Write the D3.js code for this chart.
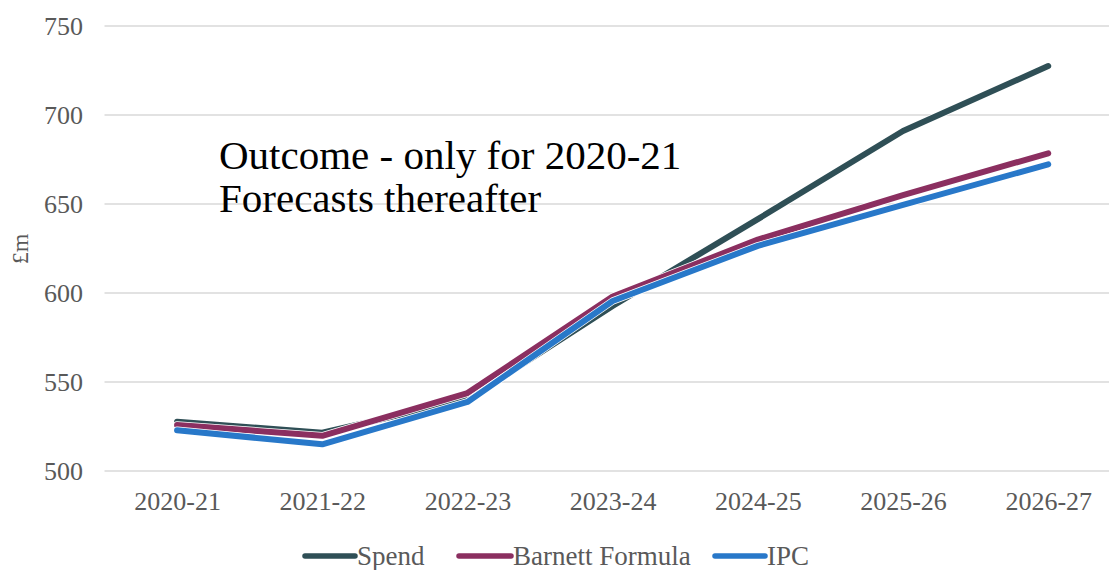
<!DOCTYPE html>
<html>
<head>
<meta charset="utf-8">
<script src="https://cdn.jsdelivr.net/npm/d3@7"></script>
<style>
  html, body { margin: 0; padding: 0; background: #ffffff; }
  svg { display: block; font-family: "Liberation Serif", "Times New Roman", serif; }
</style>
</head>
<body>
<svg id="chart" width="1109" height="570"></svg>
<script>
// Financial years on the horizontal axis
const years = ["2020-21", "2021-22", "2022-23", "2023-24", "2024-25", "2025-26", "2026-27"];

// Series values, £m
const spend   = [527.7, 521.5, 540.2, 592.7, 641.5, 691.0, 727.5];
const barnett = [525.8, 519.8, 543.8, 598.0, 630.0, 655.0, 678.5];
const ipc     = [522.9, 515.0, 538.8, 595.5, 626.5, 649.5, 672.3];

const yTicks = [500, 550, 600, 650, 700, 750];

const seriesNames  = ["Spend", "Barnett Formula", "IPC"];
const seriesColors = ["#2f4f56", "#8b2f60", "#2878c9"];

// Annotation lines
const noteLines = ["Outcome - only for 2020-21", "Forecasts thereafter"];

const series = [spend, barnett, ipc].map((values, i) => ({
  name: seriesNames[i],
  color: seriesColors[i],
  values: values
}));

const svg = d3.select("#chart");

const x = d3.scalePoint()
  .domain(years)
  .range([104.5, 1120.8])
  .padding(0.5);

const y = d3.scaleLinear()
  .domain([500, 750])
  .range([471, 26]);

const textGrey = "#595959";

// Horizontal gridlines
svg.append("g")
  .selectAll("line")
  .data(yTicks)
  .join("line")
  .attr("x1", 104.5)
  .attr("x2", 1121)
  .attr("y1", d => y(d))
  .attr("y2", d => y(d))
  .attr("stroke", "#d9d9d9")
  .attr("stroke-width", 1.5);

// Value axis labels
const yAxis = d3.axisLeft(y).tickValues(yTicks).tickSize(0).tickPadding(0);
svg.append("g")
  .attr("transform", "translate(83,0)")
  .call(yAxis)
  .call(g => g.select(".domain").remove())
  .call(g => g.selectAll("text")
    .attr("fill", textGrey)
    .style("font-family", "'Liberation Serif', 'Times New Roman', serif")
    .style("font-size", "26px")
    .attr("dy", "0.34em"));

// Category axis labels
const xAxis = d3.axisBottom(x).tickSize(0).tickPadding(0);
svg.append("g")
  .attr("transform", "translate(0,490)")
  .call(xAxis)
  .call(g => g.select(".domain").remove())
  .call(g => g.selectAll("text")
    .attr("fill", textGrey)
    .style("font-family", "'Liberation Serif', 'Times New Roman', serif")
    .style("font-size", "26px")
    .attr("dy", "0.77em"));

// Axis title
svg.append("text")
  .attr("transform", "translate(28,249) rotate(-90)")
  .attr("text-anchor", "middle")
  .attr("fill", textGrey)
  .style("font-size", "24px")
  .text("£m");

// Lines
const line = d3.line()
  .x((d, i) => x(years[i]))
  .y(d => y(d));

const lineG = svg.append("g");
series.forEach(s => {
  lineG.append("path")
    .attr("d", line(s.values))
    .attr("fill", "none")
    .attr("stroke", "#ffffff")
    .attr("stroke-width", 7.5)
    .attr("stroke-linejoin", "round")
    .attr("stroke-linecap", "round");
  lineG.append("path")
    .attr("d", line(s.values))
    .attr("fill", "none")
    .attr("stroke", s.color)
    .attr("stroke-width", 6)
    .attr("stroke-linejoin", "round")
    .attr("stroke-linecap", "round");
});

// Annotation, one text element per line
svg.append("g")
  .selectAll("text")
  .data(noteLines)
  .join("text")
  .attr("x", 219)
  .attr("y", (d, i) => 169 + i * 43)
  .attr("fill", "#000000")
  .style("font-size", "41px")
  .text(d => d);

// Legend
const legendItems = [
  { x: 305, w: 50 },
  { x: 459, w: 52 },
  { x: 715, w: 50 }
];
const legend = svg.append("g");
series.forEach((s, i) => {
  const it = legendItems[i];
  legend.append("line")
    .attr("x1", it.x).attr("x2", it.x + it.w)
    .attr("y1", 556).attr("y2", 556)
    .attr("stroke", s.color)
    .attr("stroke-width", 5.5)
    .attr("stroke-linecap", "round");
  legend.append("text")
    .attr("x", it.x + it.w + 2)
    .attr("y", 556)
    .attr("dy", "0.34em")
    .attr("fill", textGrey)
    .style("font-size", "27px")
    .text(s.name);
});
</script>
</body>
</html>
